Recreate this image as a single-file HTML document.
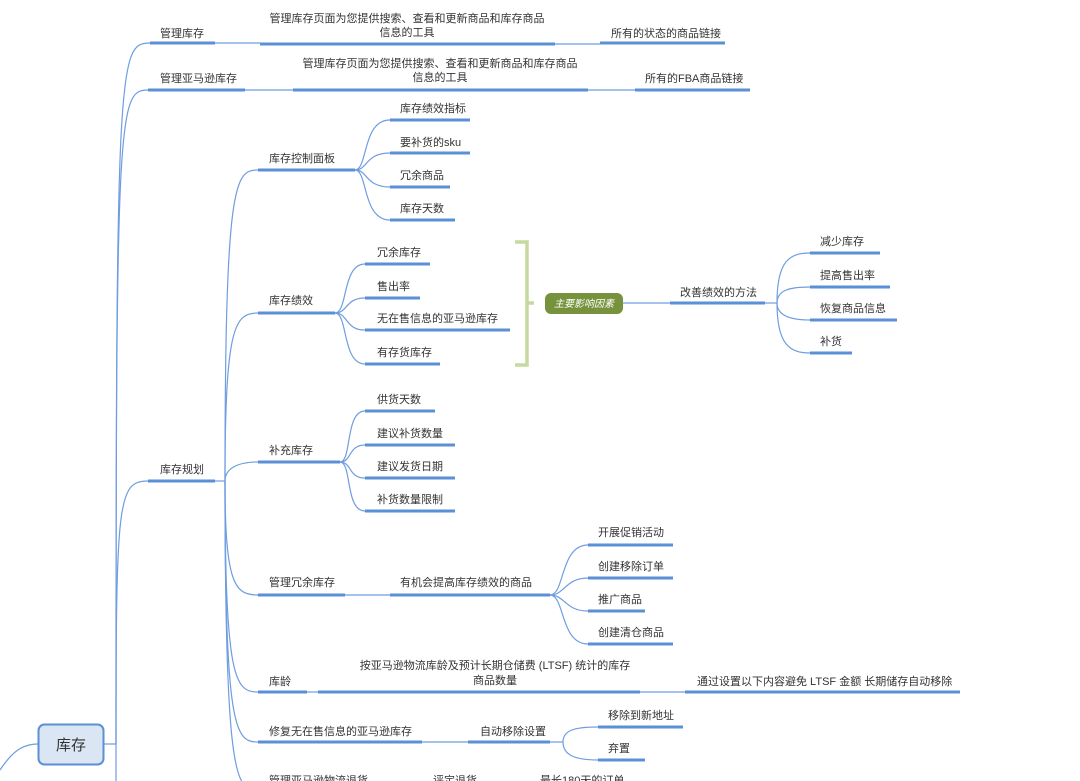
<!DOCTYPE html>
<html><head><meta charset="utf-8"><style>
html,body{margin:0;padding:0;background:#fff;}
svg{display:block;font-family:"Liberation Sans","Noto Sans CJK SC",sans-serif;}
text{font-size:11px;fill:#333;}
.u{stroke:#5b8fd6;stroke-width:3;fill:none;}
.l{stroke:#6f9de0;stroke-width:1.2;fill:none;}
</style></head><body>
<svg width="1080" height="781" viewBox="0 0 1080 781">
<!-- trunk -->
<path class="l" d="M104,744 L116,744"/>
<path class="l" d="M116,744 C116,60 118,43 150,43"/>
<path class="l" d="M116,744 C116,110 118,90 148,90"/>
<path class="l" d="M116,744 C116,500 118,481 148,481"/>
<path class="l" d="M116,744 L116,781"/>
<path class="l" d="M0,770 C10,755 20,744 38,744"/>
<!-- level 1 -->
<text x="160" y="37">管理库存</text><path class="u" d="M150,43H215"/>
<path class="l" d="M215,43H260"/>
<text x="407" y="22" text-anchor="middle">管理库存页面为您提供搜索、查看和更新商品和库存商品</text>
<text x="407" y="36" text-anchor="middle">信息的工具</text><path class="u" d="M260,44H555"/>
<path class="l" d="M555,44H600"/>
<text x="611" y="37">所有的状态的商品链接</text><path class="u" d="M600,43H725"/>

<text x="160" y="82">管理亚马逊库存</text><path class="u" d="M148,90H245"/>
<path class="l" d="M245,90H293"/>
<text x="440" y="67" text-anchor="middle">管理库存页面为您提供搜索、查看和更新商品和库存商品</text>
<text x="440" y="81" text-anchor="middle">信息的工具</text><path class="u" d="M293,90H588"/>
<path class="l" d="M588,90H635"/>
<text x="645" y="82">所有的FBA商品链接</text><path class="u" d="M635,90H750"/>

<text x="160" y="473">库存规划</text><path class="u" d="M148,481H215"/>
<path class="l" d="M215,481H225"/>
<path class="l" d="M225,481 C225,180 235,170 258,170"/>
<path class="l" d="M225,481 C225,325 235,313 258,313"/>
<path class="l" d="M225,481 C225,470 235,462 258,462"/>
<path class="l" d="M225,481 C225,585 235,595 258,595"/>
<path class="l" d="M225,481 C225,680 235,692 258,692"/>
<path class="l" d="M225,481 C225,730 235,742 258,742"/>
<path class="l" d="M225,481 C225,760 235,781 250,790"/>

<!-- 库存控制面板 -->
<text x="269" y="162">库存控制面板</text><path class="u" d="M258,170H355"/>
<path class="l" d="M355,170 C368,170 362,120 390,120"/>
<path class="l" d="M355,170 C368,170 365,153 390,153"/>
<path class="l" d="M355,170 C368,170 365,187 390,187"/>
<path class="l" d="M355,170 C368,170 362,220 390,220"/>
<text x="400" y="112">库存绩效指标</text><path class="u" d="M390,120H470"/>
<text x="400" y="146">要补货的sku</text><path class="u" d="M390,153H470"/>
<text x="400" y="179">冗余商品</text><path class="u" d="M390,187H450"/>
<text x="400" y="212">库存天数</text><path class="u" d="M390,220H455"/>

<!-- 库存绩效 -->
<text x="269" y="304">库存绩效</text><path class="u" d="M258,313H335"/>
<path class="l" d="M335,313 C348,313 342,264 365,264"/>
<path class="l" d="M335,313 C348,313 345,298 365,298"/>
<path class="l" d="M335,313 C348,313 345,330 365,330"/>
<path class="l" d="M335,313 C348,313 342,364 365,364"/>
<text x="377" y="256">冗余库存</text><path class="u" d="M365,264H430"/>
<text x="377" y="290">售出率</text><path class="u" d="M365,298H420"/>
<text x="377" y="322">无在售信息的亚马逊库存</text><path class="u" d="M365,330H510"/>
<text x="377" y="356">有存货库存</text><path class="u" d="M365,364H440"/>
<path d="M515,242H527V365H515M527,303H534" stroke="#c5d9a0" stroke-width="3.5" fill="none"/>
<rect x="545" y="293" width="78" height="21" rx="6" fill="#76923c"/>
<text x="584" y="307" text-anchor="middle" style="fill:#fff;font-size:10px;font-style:italic">主要影响因素</text>
<path class="l" d="M623,303H670"/>
<text x="680" y="296">改善绩效的方法</text><path class="u" d="M670,303H765"/>
<path class="l" d="M765,303H777"/>
<path class="l" d="M777,303 C777,260 790,253 810,253"/>
<path class="l" d="M777,303 C777,290 790,287 810,287"/>
<path class="l" d="M777,303 C777,315 790,320 810,320"/>
<path class="l" d="M777,303 C777,345 790,353 810,353"/>
<text x="820" y="245">减少库存</text><path class="u" d="M810,253H880"/>
<text x="820" y="279">提高售出率</text><path class="u" d="M810,287H890"/>
<text x="820" y="312">恢复商品信息</text><path class="u" d="M810,320H897"/>
<text x="820" y="345">补货</text><path class="u" d="M810,353H852"/>

<!-- 补充库存 -->
<text x="269" y="454">补充库存</text><path class="u" d="M258,462H340"/>
<path class="l" d="M340,462 C352,462 345,411 365,411"/>
<path class="l" d="M340,462 C352,462 348,445 365,445"/>
<path class="l" d="M340,462 C352,462 348,478 365,478"/>
<path class="l" d="M340,462 C352,462 345,511 365,511"/>
<text x="377" y="403">供货天数</text><path class="u" d="M365,411H435"/>
<text x="377" y="437">建议补货数量</text><path class="u" d="M365,445H455"/>
<text x="377" y="470">建议发货日期</text><path class="u" d="M365,478H455"/>
<text x="377" y="503">补货数量限制</text><path class="u" d="M365,511H455"/>

<!-- 管理冗余库存 -->
<text x="269" y="586">管理冗余库存</text><path class="u" d="M258,595H345"/>
<path class="l" d="M345,595H390"/>
<text x="400" y="586">有机会提高库存绩效的商品</text><path class="u" d="M390,595H550"/>
<path class="l" d="M550,595 C565,595 560,545 588,545"/>
<path class="l" d="M550,595 C565,595 565,578 588,578"/>
<path class="l" d="M550,595 C565,595 565,611 588,611"/>
<path class="l" d="M550,595 C565,595 560,644 588,644"/>
<text x="598" y="536">开展促销活动</text><path class="u" d="M588,545H673"/>
<text x="598" y="570">创建移除订单</text><path class="u" d="M588,578H673"/>
<text x="598" y="603">推广商品</text><path class="u" d="M588,611H645"/>
<text x="598" y="636">创建清仓商品</text><path class="u" d="M588,644H673"/>

<!-- 库龄 -->
<text x="269" y="685">库龄</text><path class="u" d="M258,692H307"/>
<path class="l" d="M307,692H318"/>
<text x="495" y="669" text-anchor="middle">按亚马逊物流库龄及预计长期仓储费 (LTSF) 统计的库存</text>
<text x="495" y="684" text-anchor="middle">商品数量</text><path class="u" d="M318,692H640"/>
<path class="l" d="M640,692H685"/>
<text x="697" y="685">通过设置以下内容避免 LTSF 金额 长期储存自动移除</text><path class="u" d="M685,692H960"/>

<!-- 修复 -->
<text x="269" y="735">修复无在售信息的亚马逊库存</text><path class="u" d="M258,742H422"/>
<path class="l" d="M422,742H468"/>
<text x="480" y="735">自动移除设置</text><path class="u" d="M468,742H550"/>
<path class="l" d="M550,742H563"/>
<path class="l" d="M563,742 C563,730 575,727 598,727"/>
<path class="l" d="M563,742 C563,755 575,760 598,760"/>
<text x="608" y="719">移除到新地址</text><path class="u" d="M598,727H683"/>
<text x="608" y="752">弃置</text><path class="u" d="M598,760H645"/>

<text x="269" y="784">管理亚马逊物流退货</text>
<text x="433" y="784">评定退货</text>
<text x="540" y="784">最长180天的订单</text>

<!-- root -->
<rect x="38.5" y="724.5" width="65" height="40" rx="6" fill="#dae6f3" stroke="#5b8fd6" stroke-width="2"/>
<text x="71" y="750" text-anchor="middle" style="font-size:15px">库存</text>
</svg>
</body></html>
